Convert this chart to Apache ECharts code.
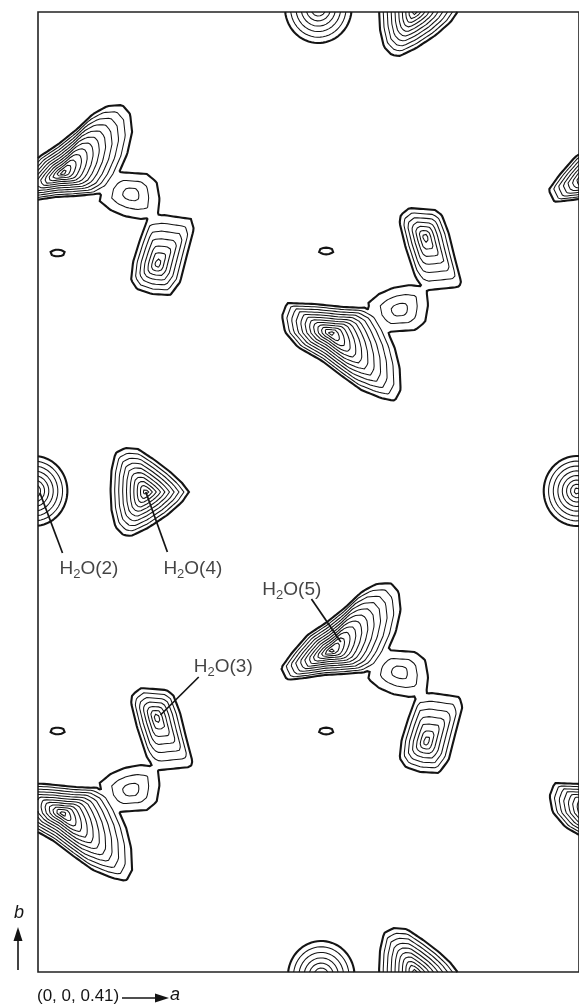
<!DOCTYPE html>
<html>
<head>
<meta charset="utf-8">
<script src="https://cdn.jsdelivr.net/npm/echarts@6/dist/echarts.min.js"></script>
<style>
html,body{margin:0;padding:0;background:#fff;}
#chart{width:579px;height:1008px;}
</style>
</head>
<body>
<div id="chart"></div>
<script>
// ---------- map extent of the section (map units) ----------
const extentA = 552;   // along a
const extentB = 960;   // along b

// ---------- density peaks ----------
const peakX      = [25, 95, 122, 20,  299, 369, 396, 294,  572,  299, 369, 395, 294,  25, 95, 121, 20,  572,  110, 384, 384,  -4, 550, 286, 289];
const peakY      = [799, 778, 708, 719, 321, 300, 230, 241, 799, 639, 662, 735, 721, 159, 182, 255, 241, 159, 480, 960, 0,  481, 481, 964, -4];
const peakLevels = [12, 3, 7, 1,  12, 3, 7, 1,  12,  12, 3, 7, 1,  12, 3, 7, 1,  12,  10, 10, 10,  8, 8, 7, 7];
const peakShape  = ['bigA','midA','lowA','dot', 'bigA','midA','lowA','dot', 'bigA',
                    'bigB','midB','upB','dot', 'bigB','midB','upB','dot', 'bigB',
                    'tri','tri','tri', 'round','round','round','round'];

// outer-contour outlines of each peak type, relative to the peak
const outlineBigA = [[-51,-17],[-45,-29],[-27,-27],[-7,-24],[13,-23],[35,-21],[48,-14],[57,-1],[66,19],[71,41],[69,59],[61,68],[46,67],[31,59],[15,44],[-4,29],[-24,16],[-40,-2]];
const outlineMidA = [[-29,8],[-22,17],[-14,22],[16,20],[26,12],[29,-5],[27,-23],[10,-25],[-7,-22],[-21,-16],[-32,-7]];
const outlineLowA = [[-9,47],[6,49],[34,45],[37,35],[30,9],[23,-18],[13,-31],[-6,-30],[-21,-25],[-27,-16],[-25,2],[-18,24],[-12,40]];
const outlineBigB = [[-50,17],[-45,30],[-17,29],[13,26],[35,25],[48,18],[57,3],[65,-15],[70,-35],[71,-57],[65,-68],[51,-65],[31,-57],[11,-43],[-9,-28],[-34,-14],[-47,1]];
const outlineMidB = [[-29,-8],[-22,-17],[-14,-22],[16,-20],[26,-12],[29,5],[27,23],[10,25],[-7,22],[-21,16],[-32,7]];
const outlineUpB  = [[-25,22],[-16,29],[10,27],[17,22],[24,4],[30,-20],[37,-46],[34,-50],[4,-53],[-3,-50],[-10,-40],[-20,-10],[-26,14]];
const outlineTri  = [[-31,39],[-21,44],[-8,43],[9,32],[25,20],[37,9],[44,0],[37,-10],[22,-23],[2,-36],[-15,-44],[-23,-43],[-31,-35],[-35,-18],[-36,2],[-35,22]];
const radiiRound  = [34, 35];
const radiiDot    = [7.5, 3.3];

// ---------- labelled water molecules ----------
const annoText   = ['H2O(2)', 'H2O(4)', 'H2O(5)', 'H2O(3)'];
const annoFromX  = [2, 110, 309, 125];
const annoFromY  = [479, 480, 330, 257];
const annoToX    = [25, 132, 279, 164];
const annoToY    = [419, 420, 373, 295];
const annoLabelX = [52, 158, 259, 189];
const annoLabelY = [403, 403, 382, 305];

// ---------- build density field ----------
const shapes = {
  bigA: {poly: outlineBigA}, midA: {poly: outlineMidA}, lowA: {poly: outlineLowA},
  bigB: {poly: outlineBigB}, midB: {poly: outlineMidB}, upB: {poly: outlineUpB},
  tri: {poly: outlineTri}, round: {ell: radiiRound}, dot: {ell: radiiDot}
};
const STEP = 3;
const PROFILE = 0.85;
const NX = Math.round(extentA / STEP), NY = Math.round(extentB / STEP);
const W = NX + 1;
const field = new Float64Array(W * (NY + 1));

function rhoPoly(px, py, verts) {
  if (px === 0 && py === 0) return 0;
  let best = Infinity;
  const n = verts.length;
  for (let k = 0; k < n; k++) {
    const a = verts[k], b = verts[(k + 1) % n];
    const ex = b[0] - a[0], ey = b[1] - a[1];
    const den = px * ey - py * ex;
    if (Math.abs(den) < 1e-12) continue;
    const t = (a[0] * ey - a[1] * ex) / den;
    const s = (a[0] * py - a[1] * px) / den;
    if (s >= -1e-9 && s <= 1 + 1e-9 && t > 0 && t < best) best = t;
  }
  return best === Infinity ? 10 : 1 / best;
}

for (let p = 0; p < peakX.length; p++) {
  const sh = shapes[peakShape[p]];
  const cx = peakX[p], cy = peakY[p], N = peakLevels[p];
  let minX, maxX, minY, maxY;
  if (sh.poly) {
    minX = Math.min(...sh.poly.map(v => v[0])); maxX = Math.max(...sh.poly.map(v => v[0]));
    minY = Math.min(...sh.poly.map(v => v[1])); maxY = Math.max(...sh.poly.map(v => v[1]));
  } else {
    minX = -sh.ell[0]; maxX = sh.ell[0]; minY = -sh.ell[1]; maxY = sh.ell[1];
  }
  const i0 = Math.max(0, Math.floor((cx + minX - 12) / STEP));
  const i1 = Math.min(NX, Math.ceil((cx + maxX + 12) / STEP));
  const j0 = Math.max(0, Math.floor((cy + minY - 12) / STEP));
  const j1 = Math.min(NY, Math.ceil((cy + maxY + 12) / STEP));
  for (let j = j0; j <= j1; j++) {
    for (let i = i0; i <= i1; i++) {
      const dx = i * STEP - cx, dy = j * STEP - cy;
      let rho;
      if (sh.poly) rho = rhoPoly(dx, dy, sh.poly);
      else rho = Math.sqrt((dx / sh.ell[0]) ** 2 + (dy / sh.ell[1]) ** 2);
      const f = 1 + N * (1 - Math.pow(rho, PROFILE));
      const idx = j * W + i;
      if (f > field[idx]) field[idx] = f;
    }
  }
}

// ---------- marching squares ----------
const NH = NX * (NY + 1);
function hId(i, j) { return j * NX + i; }
function vId(i, j) { return NH + j * W + i; }
function edgePoint(e, L) {
  if (e < NH) {
    const j = Math.floor(e / NX), i = e % NX;
    const va = field[j * W + i], vb = field[j * W + i + 1];
    const t = (L - va) / (vb - va);
    return [(i + t) * STEP, j * STEP];
  } else {
    const e2 = e - NH;
    const j = Math.floor(e2 / W), i = e2 % W;
    const va = field[j * W + i], vb = field[(j + 1) * W + i];
    const t = (L - va) / (vb - va);
    return [i * STEP, (j + t) * STEP];
  }
}
function contourLines(L) {
  const segs = [];
  for (let j = 0; j < NY; j++) {
    for (let i = 0; i < NX; i++) {
      const v0 = field[j * W + i], v1 = field[j * W + i + 1];
      const v2 = field[(j + 1) * W + i + 1], v3 = field[(j + 1) * W + i];
      const c = (v0 >= L ? 1 : 0) | (v1 >= L ? 2 : 0) | (v2 >= L ? 4 : 0) | (v3 >= L ? 8 : 0);
      if (c === 0 || c === 15) continue;
      const eB = hId(i, j), eT = hId(i, j + 1), eL = vId(i, j), eR = vId(i + 1, j);
      switch (c) {
        case 1: case 14: segs.push([eL, eB]); break;
        case 2: case 13: segs.push([eB, eR]); break;
        case 3: case 12: segs.push([eL, eR]); break;
        case 4: case 11: segs.push([eR, eT]); break;
        case 6: case 9: segs.push([eB, eT]); break;
        case 7: case 8: segs.push([eL, eT]); break;
        case 5: {
          const m = (v0 + v1 + v2 + v3) / 4 >= L;
          if (m) { segs.push([eB, eR]); segs.push([eL, eT]); }
          else { segs.push([eL, eB]); segs.push([eR, eT]); }
          break;
        }
        case 10: {
          const m = (v0 + v1 + v2 + v3) / 4 >= L;
          if (m) { segs.push([eL, eB]); segs.push([eR, eT]); }
          else { segs.push([eB, eR]); segs.push([eL, eT]); }
          break;
        }
      }
    }
  }
  const adj = new Map();
  segs.forEach((s, k) => {
    for (const e of s) { if (!adj.has(e)) adj.set(e, []); adj.get(e).push(k); }
  });
  const used = new Uint8Array(segs.length);
  const lines = [];
  function nextSeg(e) {
    const list = adj.get(e);
    for (const m of list) if (!used[m]) return m;
    return -1;
  }
  for (let k = 0; k < segs.length; k++) {
    if (used[k]) continue;
    used[k] = 1;
    const chain = [segs[k][0], segs[k][1]];
    let cur = segs[k][1];
    let closed = false;
    while (true) {
      const nk = nextSeg(cur);
      if (nk < 0) break;
      used[nk] = 1;
      const s = segs[nk];
      const nxt = s[0] === cur ? s[1] : s[0];
      chain.push(nxt);
      cur = nxt;
      if (nxt === chain[0]) { closed = true; break; }
    }
    if (!closed) {
      cur = chain[0];
      while (true) {
        const nk = nextSeg(cur);
        if (nk < 0) break;
        used[nk] = 1;
        const s = segs[nk];
        const nxt = s[0] === cur ? s[1] : s[0];
        chain.unshift(nxt);
        cur = nxt;
      }
    }
    lines.push({coords: chain.map(e => edgePoint(e, L))});
  }
  return lines;
}

const maxLevel = Math.max(...peakLevels);
const outerLines = contourLines(1);
let innerLines = [];
for (let L = 2; L <= maxLevel; L++) innerLines = innerLines.concat(contourLines(L));

function richLabel(t) {
  const m = t.match(/^H2O(.*)$/);
  return '{m|H}{s|2}{m|O' + m[1] + '}';
}

const chart = echarts.init(document.getElementById('chart'), null, {renderer: 'canvas'});
const ink = '#141414';
const fontFam = '"Liberation Sans", Arial, sans-serif';
chart.setOption({
  animation: false,
  backgroundColor: '#ffffff',
  grid: {left: 38, top: 12, width: 552, height: 960, show: true, borderColor: '#222', borderWidth: 1.6, backgroundColor: 'transparent'},
  xAxis: {type: 'value', min: 0, max: extentA, show: false},
  yAxis: {type: 'value', min: 0, max: extentB, show: false},
  series: [
    {type: 'lines', coordinateSystem: 'cartesian2d', polyline: true, silent: true,
     data: innerLines, lineStyle: {color: ink, width: 1.05, opacity: 1}},
    {type: 'lines', coordinateSystem: 'cartesian2d', polyline: true, silent: true,
     data: outerLines, lineStyle: {color: ink, width: 2.1, opacity: 1}},
    {type: 'lines', coordinateSystem: 'cartesian2d', silent: true,
     data: annoText.map((t, i) => ({coords: [[annoFromX[i], annoFromY[i]], [annoToX[i], annoToY[i]]]})),
     lineStyle: {color: ink, width: 1.7, opacity: 1}},
    {type: 'scatter', symbolSize: 0, silent: true,
     data: annoText.map((t, i) => [annoLabelX[i], annoLabelY[i]]),
     label: {show: true, position: 'inside',
       formatter: p => richLabel(annoText[p.dataIndex]),
       rich: {
         m: {fontSize: 19, fontFamily: fontFam, color: ink, lineHeight: 24},
         s: {fontSize: 13, fontFamily: fontFam, color: ink, lineHeight: 24, verticalAlign: 'bottom'}
       }}}
  ],
  graphic: [
    {type: 'text', left: 14, top: 904, style: {text: 'b', font: 'italic 18px ' + fontFam, fill: ink}},
    {type: 'line', shape: {x1: 18, y1: 970, x2: 18, y2: 938}, style: {stroke: ink, lineWidth: 1.6}},
    {type: 'polygon', shape: {points: [[18, 927], [13.5, 941], [22.5, 941]]}, style: {fill: ink}},
    {type: 'text', left: 37, top: 988, style: {text: '(0, 0, 0.41)', font: '17px ' + fontFam, fill: ink}},
    {type: 'line', shape: {x1: 122, y1: 998, x2: 158, y2: 998}, style: {stroke: ink, lineWidth: 1.6}},
    {type: 'polygon', shape: {points: [[169, 998], [155, 993.5], [155, 1002.5]]}, style: {fill: ink}},
    {type: 'text', left: 170, top: 986, style: {text: 'a', font: 'italic 18px ' + fontFam, fill: ink}}
  ]
});
</script>
</body>
</html>
